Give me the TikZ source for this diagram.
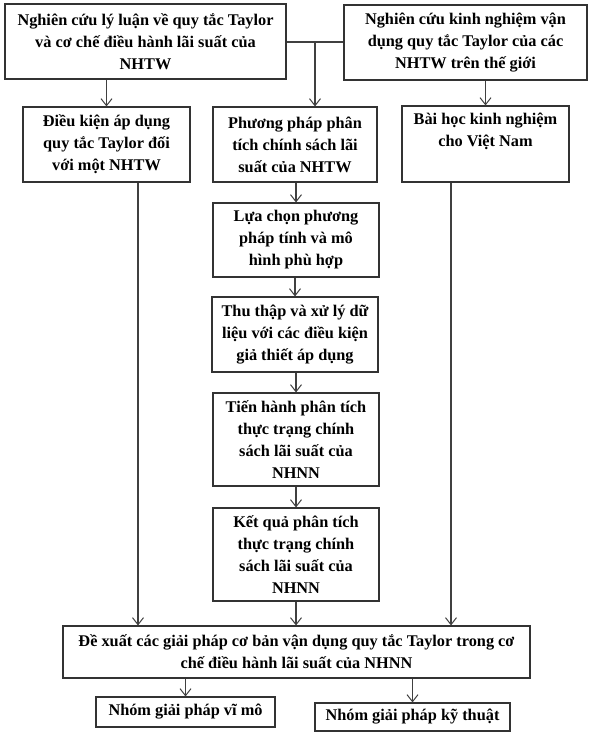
\documentclass[tikz,border=0pt]{standalone}
\usepackage{fontspec}
\setmainfont{Liberation Serif}
\usetikzlibrary{arrows.meta}
\begin{document}
\begin{tikzpicture}[x=1pt,y=-1pt,
  box/.style={draw=black!80, line width=1.1pt, align=center, inner sep=0pt,
    font=\fontsize{16.3}{22}\selectfont\bfseries},
  conn/.style={draw=black!75, line width=1.1pt},
  arr/.style={conn, -{Straight Barb[length=7pt,width=11pt,line width=1pt]}}]
\useasboundingbox (0,0) rectangle (594,736);
\node[box, minimum width=281pt, minimum height=75pt] (A) at (145.5,41.5)
  {Nghiên cứu lý luận về quy tắc Taylor\\và cơ chế điều hành lãi suất của\\NHTW};
\node[box, minimum width=243pt, minimum height=75pt] (B) at (465.5,42.5)
  {Nghiên cứu kinh nghiệm vận\\dụng quy tắc Taylor của các\\NHTW trên thế giới};
\node[box, minimum width=167pt, minimum height=75pt] (C) at (106.5,144.5)
  {Điều kiện áp dụng\\quy tắc Taylor đối\\với một NHTW};
\node[box, minimum width=164pt, minimum height=75pt] (D) at (295,144.5)
  {Phương pháp phân\\tích chính sách lãi\\suất của NHTW};
\node[box, minimum width=167pt, minimum height=76pt] (E) at (485.5,144)
  {Bài học kinh nghiệm\\cho Việt Nam\\\strut};
\node[box, minimum width=166pt, minimum height=74pt] (F) at (296,240)
  {Lựa chọn phương\\pháp tính và mô\\hình phù hợp};
\node[box, minimum width=166pt, minimum height=75pt] (G) at (295,334.5)
  {Thu thập và xử lý dữ\\liệu với các điều kiện\\giả thiết áp dụng};
\node[box, minimum width=166pt, minimum height=93pt] (H) at (296,439.5)
  {Tiến hành phân tích\\thực trạng chính\\sách lãi suất của\\NHNN};
\node[box, minimum width=166pt, minimum height=93pt] (I) at (296,554.5)
  {Kết quả phân tích\\thực trạng chính\\sách lãi suất của\\NHNN};
\node[box, minimum width=467pt, minimum height=52pt] (J) at (296.5,652)
  {Đề xuất các giải pháp cơ bản vận dụng quy tắc Taylor trong cơ\\chế điều hành lãi suất của NHNN};
\node[box, minimum width=179pt, minimum height=30pt] (K) at (185.5,712)
  {Nhóm giải pháp vĩ mô};
\node[box, minimum width=195pt, minimum height=28pt] (L) at (412.5,717)
  {Nhóm giải pháp kỹ thuật};
% connectors
\coordinate (jn) at (315,42);
\coordinate (c1) at ([xshift=31.5pt]C.south);
\coordinate (e1) at ([xshift=-34.5pt]E.south);
\draw[conn] (A.east |- jn) -- (B.west |- jn);
\draw[arr] (jn) -- (jn |- D.north);
\draw[arr] (A.south -| C.north) -- (C.north);
\draw[arr] (B.south -| E.north) -- (E.north);
\draw[arr] (D.south -| F.north) -- (F.north);
\draw[arr] (F.south -| G.north) -- (G.north);
\draw[arr] (G.south -| H.north) -- (H.north);
\draw[arr] (H.south) -- (I.north);
\draw[arr] (I.south) -- (I.south |- J.north);
\draw[arr] (c1) -- (c1 |- J.north);
\draw[arr] (e1) -- (e1 |- J.north);
\draw[arr] (J.south -| K.north) -- (K.north);
\draw[arr] (J.south -| L.north) -- (L.north);
\end{tikzpicture}
\end{document}
